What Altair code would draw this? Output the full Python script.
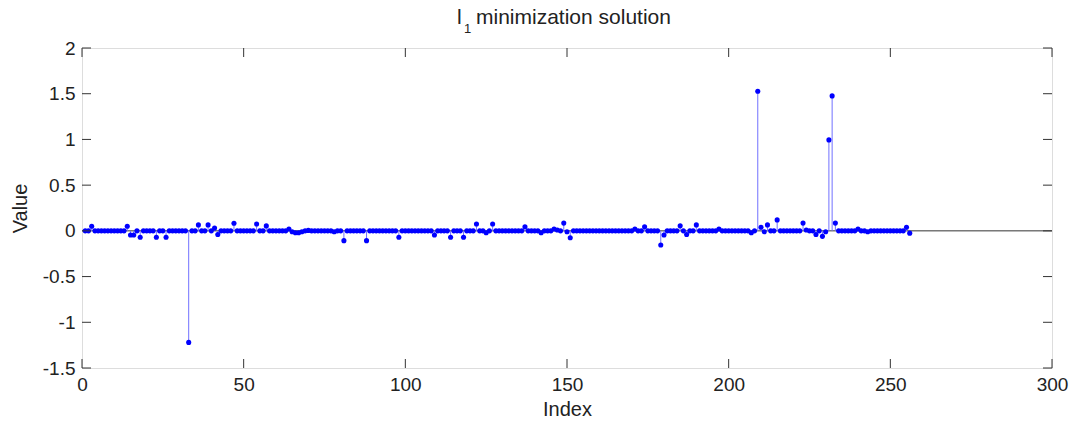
import altair as alt
import pandas as pd

# ---- data ----
indices = list(range(1, 257))
values = [
    0, 0, 0.05, 0, 0, 0, 0, 0, 0, 0, 0, 0, 0, 0.05, -0.045, -0.045,
    0, -0.07, 0, 0, 0, 0, -0.07, 0, 0, -0.07, 0, 0, 0, 0, 0, 0,
    -1.22, 0, 0, 0.065, 0, 0, 0.065, 0, 0.03, -0.04, 0, 0, 0, 0, 0.083, 0,
    0, 0, 0, 0, 0, 0.075, 0, 0, 0.054, 0, 0, 0, 0, 0, 0, 0.02,
    -0.01, -0.02, -0.02, -0.01, 0, 0.005, 0, 0, 0, 0, 0, 0, 0, -0.01, 0, 0,
    -0.107, 0, 0, 0, 0, 0, 0, -0.107, 0, 0, 0, 0, 0, 0, 0, 0,
    0, -0.07, 0, 0, 0, 0, 0, 0, 0, 0, 0, 0, -0.045, 0, 0, 0,
    0, -0.07, 0, 0, 0, -0.07, 0, 0, 0, 0.075, 0, 0, -0.02, 0, 0.075, 0,
    0, 0, 0, 0, 0, 0, 0, 0, 0.045, 0, 0, 0, 0, -0.02, 0, 0,
    0, 0.02, 0.01, 0, 0.085, -0.01, -0.075, 0, 0, 0, 0, 0, 0, 0, 0, 0,
    0, 0, 0, 0, 0, 0, 0, 0, 0, 0, 0.02, 0, 0, 0.045, 0, 0,
    0, 0, -0.154, -0.045, 0, 0, 0, 0, 0.055, 0, -0.04, 0, 0, 0.065, 0, 0,
    0, 0, 0, 0, 0.02, 0, 0, 0, 0, 0, 0, 0, 0, 0, -0.02, 0,
    1.527, 0.04, -0.01, 0.065, 0, 0, 0.12, 0, 0, 0, 0, 0, 0, 0, 0.085, 0.01,
    0, 0, -0.04, 0, -0.06, -0.01, 0.995, 1.476, 0.085, 0, 0, 0, 0, 0, 0, 0.02,
    0, 0, -0.01, 0, 0, 0, 0, 0, 0, 0, 0, 0, 0, 0, 0.04, -0.025,
]
x_ticks = [0, 50, 100, 150, 200, 250, 300]
y_ticks = [-1.5, -1, -0.5, 0, 0.5, 1, 1.5, 2]
title_main = "l"
title_sub = "1"
title_rest = "minimization solution"

W, H = 970, 320
TICK = 9
FONT = "Liberation Sans"
TXT = "#222"

df = pd.DataFrame({"Index": indices, "Value": values, "zero": [0] * len(indices)})
xt = pd.DataFrame({"t": x_ticks})
yt = pd.DataFrame({"t": y_ticks})

xscale = alt.Scale(domain=[0, 300], nice=False, zero=False)
yscale = alt.Scale(domain=[-1.5, 2], nice=False, zero=False)

xaxis = alt.Axis(values=x_ticks, ticks=False, domain=False, grid=False,
                 labelFont=FONT, labelFontSize=19, labelColor=TXT,
                 labelPadding=7, titleFont=FONT, titleFontSize=20,
                 titleFontWeight="normal", titleColor=TXT, titlePadding=5,
                 labelFlush=False)
yaxis = alt.Axis(values=y_ticks, ticks=False, domain=False, grid=False,
                 labelFont=FONT, labelFontSize=19, labelColor=TXT,
                 labelPadding=7, titleFont=FONT, titleFontSize=20,
                 titleFontWeight="normal", titleColor=TXT, titlePadding=12,
                 labelExpr="toString(datum.value)", labelFlush=False)

base_axes = alt.Chart(df).mark_point(opacity=0).encode(
    x=alt.X("Index:Q", scale=xscale, axis=xaxis, title="Index"),
    y=alt.Y("Value:Q", scale=yscale, axis=yaxis, title="Value"),
)

baseline = alt.Chart(pd.DataFrame({"a": [0], "b": [300], "z": [0]})).mark_rule(
    color="#333", strokeWidth=1
).encode(
    x=alt.X("a:Q", scale=xscale), x2="b:Q", y=alt.Y("z:Q", scale=yscale)
)

stems = alt.Chart(df).mark_rule(color="#7070ff", strokeWidth=1).encode(
    x=alt.X("Index:Q", scale=xscale),
    y=alt.Y("zero:Q", scale=yscale),
    y2="Value:Q",
)

points = alt.Chart(df).mark_circle(color="#0000ff", size=26, opacity=1).encode(
    x=alt.X("Index:Q", scale=xscale),
    y=alt.Y("Value:Q", scale=yscale),
)

tick_color = "#333"
xt_bottom = alt.Chart(xt).mark_rule(color=tick_color, strokeWidth=1).encode(
    x=alt.X("t:Q", scale=xscale), y=alt.value(H), y2=alt.value(H - TICK)
)
xt_top = alt.Chart(xt).mark_rule(color=tick_color, strokeWidth=1).encode(
    x=alt.X("t:Q", scale=xscale), y=alt.value(0), y2=alt.value(TICK)
)
yt_left = alt.Chart(yt).mark_rule(color=tick_color, strokeWidth=1).encode(
    y=alt.Y("t:Q", scale=yscale), x=alt.value(0), x2=alt.value(TICK)
)
yt_right = alt.Chart(yt).mark_rule(color=tick_color, strokeWidth=1).encode(
    y=alt.Y("t:Q", scale=yscale), x=alt.value(W), x2=alt.value(W - TICK)
)

# title with a real subscript: "l" + subscript "1" + rest
t1 = alt.Chart(pd.DataFrame({"s": [title_main]})).mark_text(
    align="left", baseline="alphabetic", font=FONT, fontSize=21, color=TXT
).encode(text="s:N", x=alt.value(375), y=alt.value(-24))
t2 = alt.Chart(pd.DataFrame({"s": [title_sub]})).mark_text(
    align="left", baseline="alphabetic", font=FONT, fontSize=13, color=TXT
).encode(text="s:N", x=alt.value(382), y=alt.value(-15))
t3 = alt.Chart(pd.DataFrame({"s": [title_rest]})).mark_text(
    align="left", baseline="alphabetic", font=FONT, fontSize=21, color=TXT
).encode(text="s:N", x=alt.value(394), y=alt.value(-24))

chart = alt.layer(
    base_axes, baseline, stems, points, xt_bottom, xt_top, yt_left, yt_right,
    t1, t2, t3
).properties(
    width=W,
    height=H,
    autosize=alt.AutoSizeParams(type="none"),
    padding={"left": 82, "top": 48, "right": 21, "bottom": 61},
).configure_view(
    stroke="#222", strokeWidth=1
).configure(background="white")

chart.save("out.html", embed_options={"renderer": "svg", "actions": False})
